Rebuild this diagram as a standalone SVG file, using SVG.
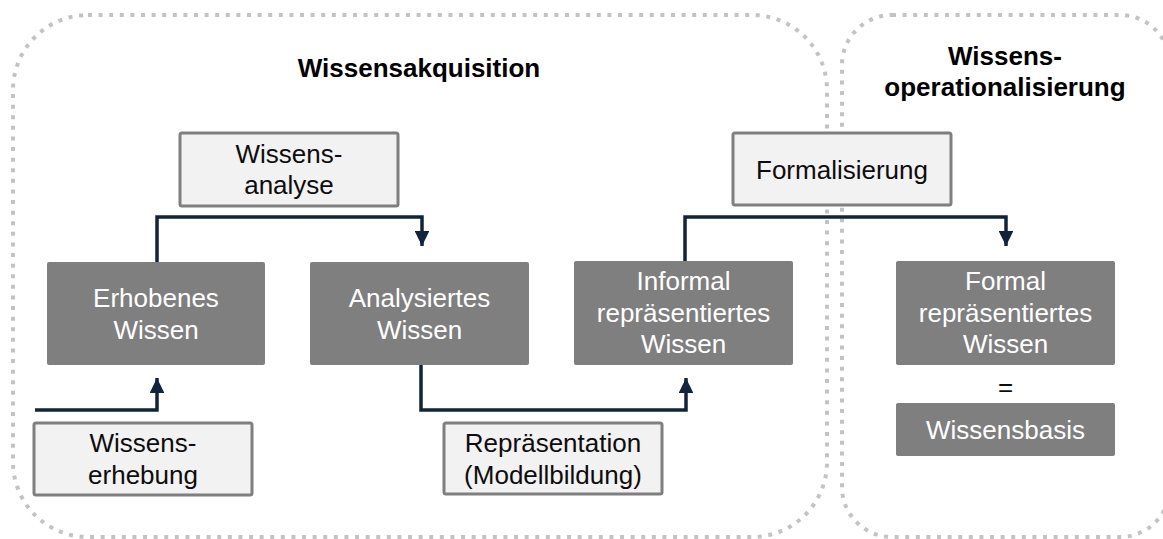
<svg xmlns="http://www.w3.org/2000/svg" width="1163" height="539" viewBox="0 0 1163 539">
<style>
.cont{fill:none;stroke:#c3c3c3;stroke-width:4;stroke-dasharray:4 6.6}
.dark{fill:#7f7f7f}
.light{fill:#f2f2f2;stroke:#7f7f7f;stroke-width:3}
.t{font-family:"Liberation Sans",Arial,sans-serif;font-size:26px;text-anchor:middle}
.w{fill:#ffffff}
.k{fill:#0d0d0d}
.title{font-family:"Liberation Sans",Arial,sans-serif;font-size:26px;font-weight:bold;text-anchor:middle;fill:#000}
.conn{fill:none;stroke:#10243e;stroke-width:3.5}
</style>
<defs>
<marker id="arr" markerWidth="4.3" markerHeight="4.2" refX="4.3" refY="2.1" orient="auto" markerUnits="strokeWidth">
<path d="M0,0 L4.3,2.1 L0,4.2 Z" fill="#10243e"/>
</marker>
</defs>
<rect width="1163" height="539" fill="#ffffff"/>
<g id="containers">
<rect id="akquisition" class="cont" x="13" y="15" width="814" height="522" rx="75" ry="75"/>
<rect id="operationalisierung" class="cont" x="842" y="15" width="328" height="522" rx="50" ry="50"/>
</g>
<g id="titles">
<text class="title" x="419" y="77">Wissensakquisition</text>
<text class="title" x="1005" y="65">Wissens-</text>
<text class="title" x="1005" y="96">operationalisierung</text>
</g>
<g id="connectors">
<path class="conn" d="M157,262 V217 H422 V246" marker-end="url(#arr)"/>
<path class="conn" d="M35,410 H157 V378" marker-end="url(#arr)"/>
<path class="conn" d="M421,365 V410 H686 V378" marker-end="url(#arr)"/>
<path class="conn" d="M685,261 V217 H1006 V246" marker-end="url(#arr)"/>
</g>
<g id="wissensanalyse">
<rect class="light" x="180" y="133" width="218" height="73" rx="2"/>
<text class="t k" x="289" y="163">Wissens-</text>
<text class="t k" x="289" y="194">analyse</text>
</g>
<g id="formalisierung">
<rect class="light" x="733" y="133" width="218" height="72" rx="2"/>
<text class="t k" x="842" y="179">Formalisierung</text>
</g>
<g id="erhobenes">
<rect class="dark" x="47" y="262" width="218" height="103" rx="2"/>
<text class="t w" x="156" y="307">Erhobenes</text>
<text class="t w" x="156" y="339">Wissen</text>
</g>
<g id="analysiertes">
<rect class="dark" x="310" y="262" width="219" height="103" rx="2"/>
<text class="t w" x="419.5" y="307">Analysiertes</text>
<text class="t w" x="419.5" y="339">Wissen</text>
</g>
<g id="informal">
<rect class="dark" x="574" y="261" width="219" height="104" rx="2"/>
<text class="t w" x="683.5" y="290">Informal</text>
<text class="t w" x="683.5" y="322">repräsentiertes</text>
<text class="t w" x="683.5" y="353">Wissen</text>
</g>
<g id="formal">
<rect class="dark" x="896" y="261" width="219" height="104" rx="2"/>
<text class="t w" x="1005.5" y="290">Formal</text>
<text class="t w" x="1005.5" y="322">repräsentiertes</text>
<text class="t w" x="1005.5" y="353">Wissen</text>
</g>
<g id="gleich">
<text class="t k" x="1005.5" y="396">=</text>
</g>
<g id="wissensbasis">
<rect class="dark" x="896" y="403" width="219" height="53" rx="2"/>
<text class="t w" x="1005.5" y="439">Wissensbasis</text>
</g>
<g id="wissenserhebung">
<rect class="light" x="34" y="423" width="218" height="72" rx="2"/>
<text class="t k" x="143" y="452">Wissens-</text>
<text class="t k" x="143" y="484">erhebung</text>
</g>
<g id="repraesentation">
<rect class="light" x="444" y="423" width="218" height="71" rx="2"/>
<text class="t k" x="553" y="452">Repräsentation</text>
<text class="t k" x="553" y="484">(Modellbildung)</text>
</g>
</svg>
